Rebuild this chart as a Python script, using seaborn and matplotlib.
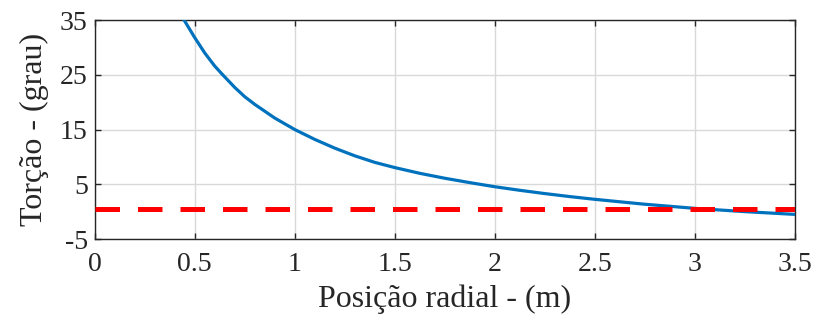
import matplotlib
matplotlib.use("Agg")
import matplotlib.pyplot as plt
import seaborn as sns
import pandas as pd

# Data
radial_pos = [0.447, 0.5, 0.55, 0.6, 0.64, 0.7, 0.75, 0.8, 0.9, 1.0, 1.1, 1.2,
              1.3, 1.4, 1.5, 1.625, 1.75, 1.875, 2.0, 2.125, 2.25, 2.375, 2.5,
              2.75, 3.0, 3.25, 3.5]
twist = [35.0, 31.8, 29.0, 26.6, 25.0, 22.7, 21.0, 19.6, 17.1, 15.0, 13.2, 11.6,
         10.2, 9.0, 8.05, 7.0, 6.1, 5.3, 4.55, 3.9, 3.3, 2.75, 2.25,
         1.35, 0.6, 0.0, -0.5]
ref_x = [0.0, 3.5]
ref_y = [0.5, 0.5]

x_ticks = [0, 0.5, 1, 1.5, 2, 2.5, 3, 3.5]
x_tick_labels = ["0", "0.5", "1", "1.5", "2", "2.5", "3", "3.5"]
y_ticks = [-5, 5, 15, 25, 35]
y_tick_labels = ["-5", "5", "15", "25", "35"]

sns.set_theme(style="whitegrid")
plt.rcParams['font.family'] = ['Liberation Serif', 'DejaVu Serif']

fig = plt.figure(figsize=(8.14, 3.24), dpi=100)
ax = fig.add_axes([0.1163, 0.2623, 0.8604, 0.6757])

df = pd.DataFrame({"x": radial_pos, "y": twist})
dref = pd.DataFrame({"x": ref_x, "y": ref_y})
sns.lineplot(data=df, x="x", y="y", ax=ax, color="#0072BD", linewidth=2.3,
             sort=False, estimator=None, zorder=3)
sns.lineplot(data=dref, x="x", y="y", ax=ax, color="#FF0000", linewidth=3.6,
             estimator=None, zorder=4)
ax.lines[-1].set_dashes((4.9, 3.6))

ax.set_xlim(0, 3.5)
ax.set_ylim(-5, 35)
ax.set_xticks(x_ticks)
ax.set_xticklabels(x_tick_labels)
ax.set_yticks(y_ticks)
ax.set_yticklabels(y_tick_labels)

ax.set_facecolor("white")
ax.grid(True, color="#d9d9d9", linewidth=1.0)
for s in ax.spines.values():
    s.set_color("#262626")
    s.set_linewidth(1.0)
    s.set_visible(True)
ax.tick_params(axis="both", which="both", direction="in", length=4, width=1,
               colors="#262626", labelcolor="#262626", labelsize=20,
               top=True, right=True, bottom=True, left=True, pad=5)
ax.tick_params(axis="x", pad=9)
ax.set_xlabel("Posição radial - (m)", fontsize=23, color="#262626", labelpad=6)
ax.set_ylabel("Torção - (grau)", fontsize=23, color="#262626", labelpad=8)

fig.savefig("out.png", dpi=100, facecolor="white")
